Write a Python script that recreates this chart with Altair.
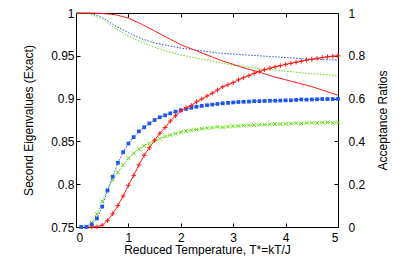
import altair as alt
import pandas as pd

# ---- data ----
T_EIG = [0.0, 0.25, 0.5, 0.75, 1.0, 1.25, 1.5, 1.75, 2.0, 2.25, 2.5, 2.75, 3.0,
         3.25, 3.5, 3.75, 4.0, 4.25, 4.5, 4.75, 5.0]
EIG_RED = [1.0, 1.0, 0.9995, 0.998, 0.994, 0.987, 0.979, 0.971, 0.963, 0.957, 0.951,
           0.945, 0.940, 0.935, 0.931, 0.926, 0.922, 0.918, 0.914, 0.909, 0.904]
EIG_BLUE = [1.0, 1.0, 0.995, 0.985, 0.977, 0.970, 0.965, 0.962, 0.959, 0.957, 0.955,
            0.953, 0.952, 0.951, 0.950, 0.949, 0.948, 0.947, 0.946, 0.9455, 0.945]
EIG_GREEN = [1.0, 0.999, 0.993, 0.982, 0.973, 0.966, 0.960, 0.955, 0.951, 0.948, 0.945,
             0.942, 0.939, 0.937, 0.935, 0.9335, 0.932, 0.9305, 0.929, 0.928, 0.927]

T_ACC = [0.1, 0.2, 0.3, 0.4, 0.5, 0.6, 0.7, 0.8, 0.9, 1.0,
         1.1, 1.2, 1.3, 1.4, 1.5, 1.6, 1.7, 1.8, 1.9, 2.0,
         2.1, 2.2, 2.3, 2.4, 2.5, 2.6, 2.7, 2.8, 2.9, 3.0,
         3.1, 3.2, 3.3, 3.4, 3.5, 3.6, 3.7, 3.8, 3.9, 4.0,
         4.1, 4.2, 4.3, 4.4, 4.5, 4.6, 4.7, 4.8, 4.9, 5.0]
ACC_BLUE = [0.0, 0.0, 0.012, 0.04, 0.095, 0.17, 0.235, 0.30, 0.35, 0.39,
            0.42, 0.447, 0.466, 0.484, 0.50, 0.513, 0.522, 0.531, 0.539, 0.546,
            0.552, 0.557, 0.562, 0.566, 0.569, 0.572, 0.575, 0.578, 0.580, 0.582,
            0.584, 0.585, 0.586, 0.588, 0.588, 0.589, 0.590, 0.590, 0.591, 0.592,
            0.592, 0.594, 0.596, 0.595, 0.596, 0.597, 0.598, 0.598, 0.598, 0.599]
ACC_GREEN = [0.0, 0.003, 0.02, 0.06, 0.12, 0.175, 0.22, 0.256, 0.29, 0.322,
             0.345, 0.364, 0.379, 0.39, 0.403, 0.413, 0.423, 0.43, 0.436, 0.443,
             0.448, 0.452, 0.456, 0.459, 0.462, 0.464, 0.468, 0.466, 0.469, 0.471,
             0.472, 0.474, 0.475, 0.476, 0.478, 0.478, 0.48, 0.481, 0.481, 0.482,
             0.483, 0.485, 0.484, 0.486, 0.487, 0.486, 0.488, 0.489, 0.487, 0.488]
T_ACC_RED = T_ACC[2:]
ACC_RED = [0.0, 0.001, 0.008, 0.03, 0.062, 0.10, 0.145, 0.195,
           0.24, 0.29, 0.335, 0.37, 0.405, 0.438, 0.465, 0.495, 0.52, 0.542,
           0.558, 0.568, 0.585, 0.598, 0.612, 0.625, 0.64, 0.655, 0.665, 0.675,
           0.688, 0.698, 0.708, 0.718, 0.727, 0.735, 0.742, 0.748, 0.754, 0.76,
           0.765, 0.77, 0.775, 0.78, 0.784, 0.788, 0.792, 0.795, 0.798, 0.80]

X_TICKS = [0, 1, 2, 3, 4, 5]
LEFT_TICKS = [0.75, 0.8, 0.85, 0.9, 0.95, 1.0]
RIGHT_TICKS = [0, 0.2, 0.4, 0.6, 0.8, 1.0]

RED = "#ff1a1a"
BLUE = "#2255f0"
GREEN = "#66dd11"
FONT = "Liberation Sans"

W, H = 262, 214

eig_df = pd.DataFrame({"T": T_EIG, "red": EIG_RED, "blue": EIG_BLUE, "green": EIG_GREEN})
acc_df = pd.DataFrame({"T": T_ACC, "blue": ACC_BLUE, "green": ACC_GREEN})
accr_df = pd.DataFrame({"T": T_ACC_RED, "red": ACC_RED})

x_bottom = alt.X("T:Q", scale=alt.Scale(domain=[0, 5], nice=False),
                 axis=alt.Axis(orient="bottom", values=X_TICKS, format="d",
                               offset=-4, tickSize=4, labelPadding=5,
                               title="Reduced Temperature, T*=kT/J",
                               titleX=W / 2, titleY=30.5, titleBaseline="alphabetic"))
x_top = alt.X("T:Q", scale=alt.Scale(domain=[0, 5], nice=False),
              axis=alt.Axis(orient="top", values=[1, 2, 3, 4], labels=False,
                            offset=-4, tickSize=4, title=""))

y_left_axis = alt.Axis(orient="left", values=LEFT_TICKS, format="~g",
                       offset=-4, tickSize=4, labelPadding=2,
                       title="Second Eigenvalues (Exact)", titleAngle=270,
                       titleX=-52, titleY=H / 2, titleBaseline="middle")
y_right_axis = alt.Axis(orient="right", values=RIGHT_TICKS, format="~g",
                        offset=-4, tickSize=4, labelPadding=10,
                        title="Acceptance Ratios", titleAngle=270,
                        titleX=48, titleY=H / 2, titleBaseline="middle")

def yl(field):
    return alt.Y(f"{field}:Q", scale=alt.Scale(domain=[0.75, 1.0], nice=False, zero=False),
                 axis=y_left_axis)

def yr(field):
    return alt.Y(f"{field}:Q", scale=alt.Scale(domain=[0, 1.0], nice=False),
                 axis=y_right_axis)

eb = alt.Chart(eig_df)
left = alt.layer(
    eb.mark_line(color=BLUE, strokeWidth=1, strokeDash=[1.5, 1.5]).encode(x=x_bottom, y=yl("blue")),
    eb.mark_line(color=GREEN, strokeWidth=1, strokeDash=[1.5, 1.5]).encode(x=x_bottom, y=yl("green")),
    eb.mark_line(color=RED, strokeWidth=1).encode(x=x_bottom, y=yl("red")),
)

ab = alt.Chart(acc_df)
rb = alt.Chart(accr_df)
PLUS = "M-1,0L1,0M0,-1L0,1"
XSH = "M-1,-1L1,1M-1,1L1,-1"
right = alt.layer(
    ab.mark_line(color=GREEN, strokeWidth=1, strokeDash=[1.5, 1.5]).encode(x=x_top, y=yr("green")),
    ab.mark_point(shape=XSH, size=14, filled=False, color=GREEN, strokeWidth=1, opacity=1).encode(x=x_top, y=yr("green")),
    ab.mark_line(color=BLUE, strokeWidth=1, strokeDash=[1.5, 1.5]).encode(x=x_top, y=yr("blue")),
    ab.mark_square(size=14, color=BLUE, opacity=1).encode(x=x_top, y=yr("blue")),
    rb.mark_line(color=RED, strokeWidth=1).encode(x=x_top, y=yr("red")),
    rb.mark_point(shape=PLUS, size=22, filled=False, color=RED, strokeWidth=1, opacity=1).encode(x=x_top, y=yr("red")),
)

chart = alt.layer(left, right).resolve_scale(y="independent").resolve_axis(
    x="independent", y="independent"
).properties(
    width=W, height=H,
    autosize=alt.AutoSizeParams(type="none"),
    padding={"left": 68, "top": 5, "right": 70, "bottom": 29},
).configure_view(
    stroke="black", strokeWidth=1
).configure_axis(
    labelFont=FONT, labelFontSize=12, labelColor="black",
    titleFont=FONT, titleFontSize=12, titleFontWeight="normal", titleColor="black",
    tickColor="black", tickWidth=1, domain=False, grid=False,
)

chart.save("out.html", embed_options={"renderer": "svg", "actions": False})
